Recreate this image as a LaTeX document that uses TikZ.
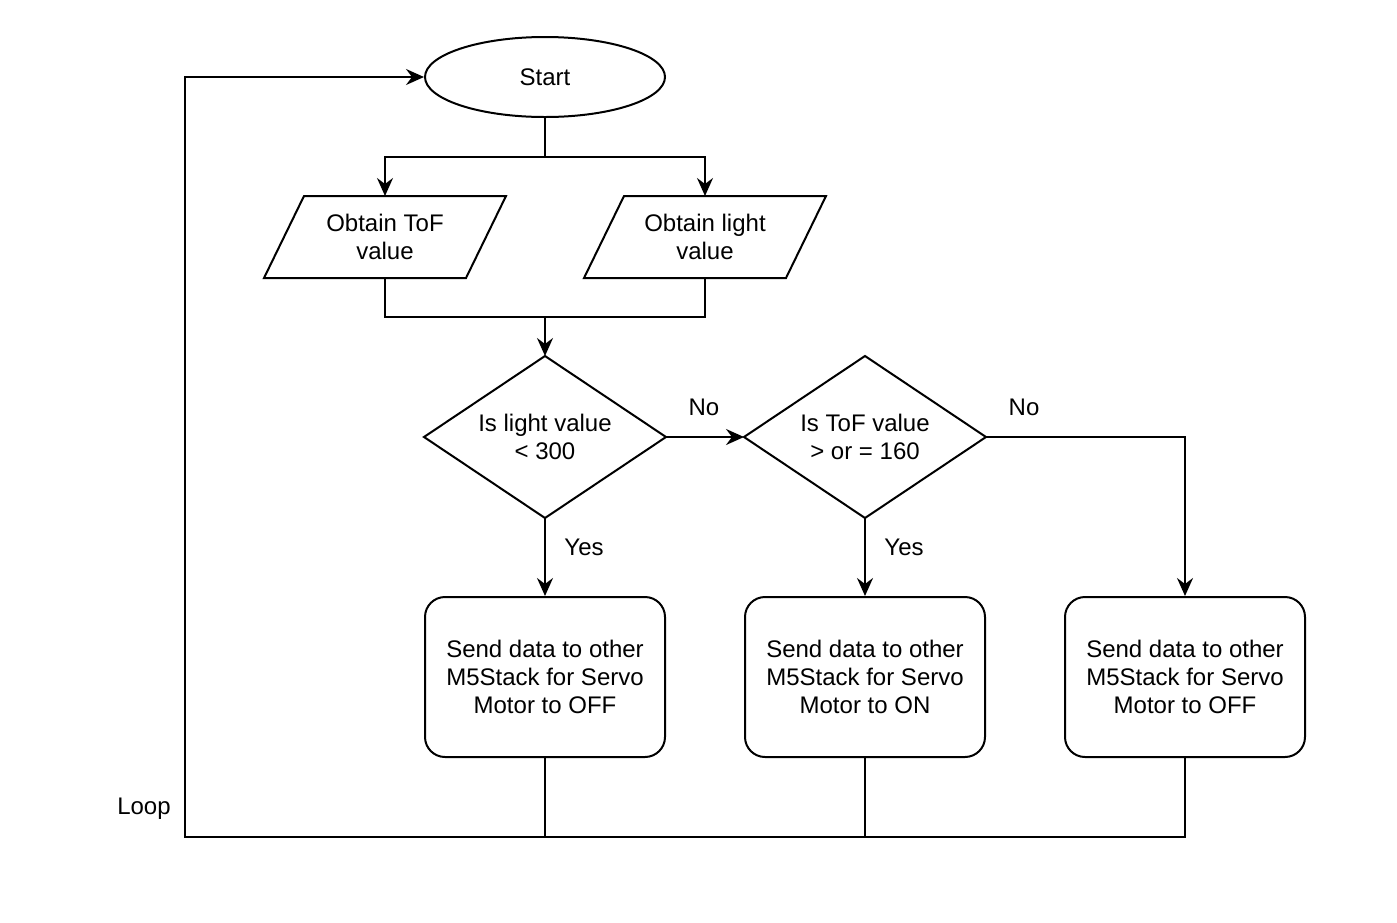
\documentclass[tikz,border=0pt]{standalone}
\usepackage{fontspec}
\setmainfont{Liberation Sans}
\usetikzlibrary{shapes.geometric,arrows.meta,calc}
\begin{document}
\begin{tikzpicture}[x=0.5pt,y=-0.5pt,
  line width=1pt,
  >={Stealth[length=9pt,width=8pt,inset=3pt]},
  txt/.style={font=\fontsize{12pt}{14pt}\selectfont,align=center,inner sep=0pt},
  holder/.style={txt,minimum width=120pt,minimum height=40pt},
  startnode/.style={txt,draw,ellipse,minimum width=120pt,minimum height=40pt},
  procbox/.style={txt,draw,rounded corners=10pt,minimum width=120pt,minimum height=80pt},
  lbl/.style={txt}
]
\useasboundingbox (0,0) rectangle (1397,922);
\node[startnode] (start) at (545,77) {Start};
\node[holder] (tof) at (385,237) {Obtain ToF\\value};
\node[holder] (light) at (705,237) {Obtain light\\value};
\draw ($(tof.north west)+(40,0)$) -- (tof.north east) -- ($(tof.south east)-(40,0)$) -- (tof.south west) -- cycle;
\draw ($(light.north west)+(40,0)$) -- (light.north east) -- ($(light.south east)-(40,0)$) -- (light.south west) -- cycle;
\node[holder,minimum height=80pt] (d1) at (545,437) {Is light value\\< 300};
\node[holder,minimum height=80pt] (d2) at (865,437) {Is ToF value\\> or = 160};
\draw (d1.north) -- (d1.east) -- (d1.south) -- (d1.west) -- cycle;
\draw (d2.north) -- (d2.east) -- (d2.south) -- (d2.west) -- cycle;
\node[procbox] (b1) at (545,677) {Send data to other\\M5Stack for Servo\\Motor to OFF};
\node[procbox] (b2) at (865,677) {Send data to other\\M5Stack for Servo\\Motor to ON};
\node[procbox] (b3) at (1185,677) {Send data to other\\M5Stack for Servo\\Motor to OFF};
\coordinate (split) at (545,157);
\coordinate (join) at (545,317);
\coordinate (loopbr) at (1185,837);
\coordinate (loopbl) at (185,837);
\coordinate (looptl) at (185,77);
\draw[->] (start.south) -- (split) -| (tof.north);
\draw[->] (split) -| (light.north);
\draw (tof.south) |- (join);
\draw (light.south) |- (join);
\draw[->] (join) -- (d1.north);
\draw[->] (d1.east) -- (d2.west);
\draw[->] (d2.east) -| (b3.north);
\draw[->] (d1.south) -- (b1.north);
\draw[->] (d2.south) -- (b2.north);
\draw (b1.south) -- (b1.south |- loopbr);
\draw (b2.south) -- (b2.south |- loopbr);
\draw[->] (b3.south) -- (loopbr) -- (loopbl) -- (looptl) -- (start.west);
\node[lbl] (no1) at (704,407) {No};
\node[lbl] (no2) at (1024,407) {No};
\node[lbl] (yes1) at (584,547) {Yes};
\node[lbl] (yes2) at (904,547) {Yes};
\node[lbl] (loop) at (144,809) {Loop};
\end{tikzpicture}
\end{document}
